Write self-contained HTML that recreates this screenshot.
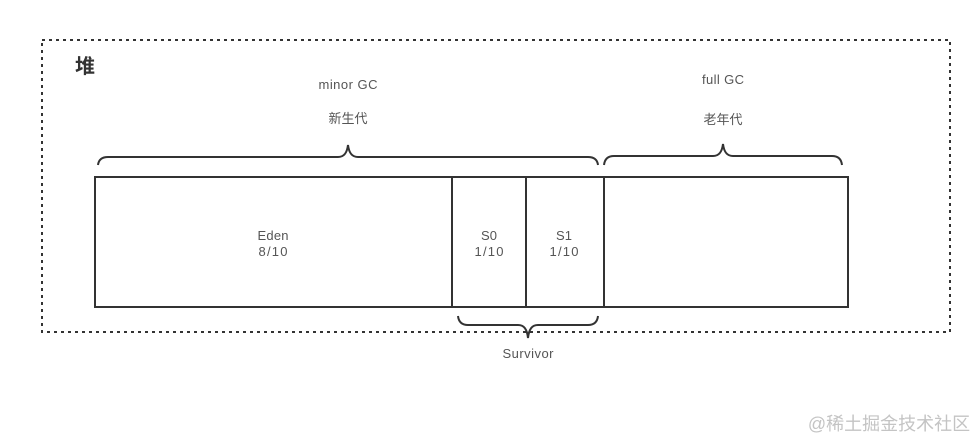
<!DOCTYPE html>
<html><head><meta charset="utf-8">
<style>
html,body{margin:0;padding:0;background:#fff;width:975px;height:441px;overflow:hidden}
svg{display:block}
text{font-family:"Liberation Sans","Noto Sans CJK SC",sans-serif;font-size:13px;fill:#555;text-anchor:middle}
</style></head>
<body>
<svg width="975" height="441" viewBox="0 0 975 441" xmlns="http://www.w3.org/2000/svg">
<rect width="975" height="441" fill="#fff"/>
<rect x="42" y="40" width="908" height="292" fill="none" stroke="#333" stroke-width="2" stroke-dasharray="3 4"/>
<text x="85" y="73" style="font-size:20px;font-weight:bold;fill:#333">堆</text>
<text x="348" y="89" textLength="59" lengthAdjust="spacing">minor GC</text>
<text x="348" y="123">新生代</text>
<text x="723" y="84" textLength="42" lengthAdjust="spacing">full GC</text>
<text x="723" y="124">老年代</text>
<g fill="none" stroke="#333" stroke-width="2">
<path d="M98 165Q99 157 108 157H338C344 157 347 153 348 145C349 153 352 157 358 157H588Q597 157 598 165"/>
<path d="M604 165Q605 156 614 156H713C719 156 722 152 723 144C724 152 727 156 733 156H832Q841 156 842 165"/>
<path d="M458 316Q459 325 468 325H518C524 325 527 329 528 338C529 329 532 325 538 325H588Q597 325 598 316"/>
<rect x="95" y="177" width="753" height="130"/>
<path d="M452 177V307M526 177V307M604 177V307"/>
</g>
<text x="273" y="240" textLength="31" lengthAdjust="spacing">Eden</text>
<text x="273" y="256" textLength="29" lengthAdjust="spacing">8/10</text>
<text x="489" y="240">S0</text>
<text x="489" y="256" textLength="29" lengthAdjust="spacing">1/10</text>
<text x="564" y="240">S1</text>
<text x="564" y="256" textLength="29" lengthAdjust="spacing">1/10</text>
<text x="528" y="358" textLength="51" lengthAdjust="spacing">Survivor</text>
<text x="889" y="430" style="font-size:18px;fill:#c4c4c4">@稀土掘金技术社区</text>
</svg>
</body></html>
